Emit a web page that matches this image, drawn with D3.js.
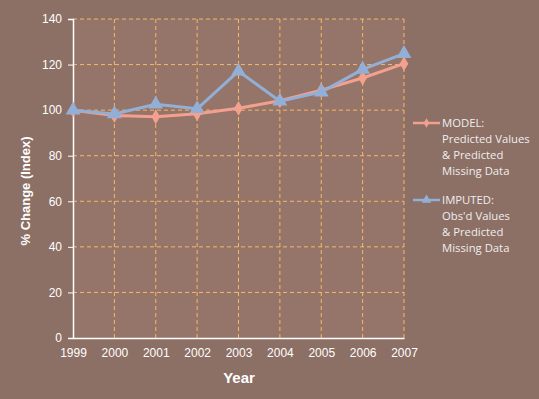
<!DOCTYPE html>
<html><head><meta charset="utf-8">
<script src="https://cdn.jsdelivr.net/npm/d3@7"></script>
<style>html,body{margin:0;padding:0;background:#8c6f65;}svg{display:block;}</style>
</head><body>
<script>
const years = [1999, 2000, 2001, 2002, 2003, 2004, 2005, 2006, 2007];
const modelValues = [100, 97.6, 97.1, 98.4, 100.8, 104.1, 108.8, 114.1, 120.4];
const imputedValues = [100, 98.3, 102.6, 100.6, 117.1, 103.9, 107.9, 117.9, 124.8];
const yTicks = [0, 20, 40, 60, 80, 100, 120, 140];
const legendModel = ["MODEL:", "Predicted Values", "& Predicted", "Missing Data"];
const legendImputed = ["IMPUTED:", "Obs'd Values", "& Predicted", "Missing Data"];

const W = 539, H = 399;
const svg = d3.select("body").append("svg").attr("width", W).attr("height", H);
svg.append("rect").attr("width", W).attr("height", H).attr("fill", "#8c6f65");

const x = d3.scaleLinear().domain([1999, 2007]).range([73, 404]);
const y = d3.scaleLinear().domain([0, 140]).range([338, 19]);

svg.append("rect").attr("x", 73).attr("y", 19).attr("width", 331).attr("height", 319).attr("fill", "#957469");

const grid = "#f5b866";
svg.append("g").selectAll("line").data(yTicks.filter(d => d > 0)).join("line")
  .attr("x1", 73).attr("x2", 404).attr("y1", d => y(d)).attr("y2", d => y(d))
  .attr("stroke", grid).attr("stroke-width", 1).attr("stroke-dasharray", "4,3");
svg.append("g").selectAll("line").data(years.slice(1)).join("line")
  .attr("x1", d => x(d)).attr("x2", d => x(d)).attr("y1", 19).attr("y2", 338)
  .attr("stroke", grid).attr("stroke-width", 1).attr("stroke-dasharray", "4,3");

const yAxis = svg.append("g").attr("transform", "translate(73,0)")
  .call(d3.axisLeft(y).tickValues(yTicks).tickSize(5).tickPadding(6));
yAxis.select(".domain").attr("stroke", "#ffffff").attr("stroke-width", 1.5);
yAxis.selectAll(".tick line").attr("stroke", "#ffffff");
yAxis.selectAll("text").attr("fill", "#ffffff").attr("font-family", "Liberation Sans, Arial, sans-serif").attr("font-size", 12);

const xAxis = svg.append("g").attr("transform", "translate(0,338)")
  .call(d3.axisBottom(x).tickValues(years).tickFormat(d3.format("d")).tickSize(0).tickPadding(10));
xAxis.select(".domain").attr("stroke", "#ffffff").attr("stroke-width", 1.5);
xAxis.selectAll("text").attr("fill", "#ffffff").attr("font-family", "Liberation Sans, Arial, sans-serif").attr("font-size", 12);

svg.append("text").attr("x", 239).attr("y", 383).attr("text-anchor", "middle")
  .attr("fill", "#ffffff").attr("font-family", "Liberation Sans, Arial, sans-serif")
  .attr("font-weight", "bold").attr("font-size", 15).text("Year");
svg.append("text").attr("transform", "translate(30,191) rotate(-90)").attr("text-anchor", "middle")
  .attr("fill", "#ffffff").attr("font-family", "Liberation Sans, Arial, sans-serif")
  .attr("font-weight", "bold").attr("font-size", 13).text("% Change (Index)");

const modelColor = "#f4a08f", impColor = "#93afd6";
const line = d3.line().x((d, i) => x(years[i])).y(d => y(d));

svg.append("path").datum(modelValues).attr("d", line).attr("fill", "none")
  .attr("stroke", modelColor).attr("stroke-width", 3).attr("stroke-linejoin", "round");
const diamond = d3.symbol().type(d3.symbolDiamond).size(64);
svg.append("g").selectAll("path").data(modelValues).join("path")
  .attr("d", diamond).attr("transform", (d, i) => `translate(${x(years[i])},${y(d)})`).attr("fill", modelColor);

svg.append("path").datum(imputedValues).attr("d", line).attr("fill", "none")
  .attr("stroke", impColor).attr("stroke-width", 3).attr("stroke-linejoin", "round");
const tri = d3.symbol().type(d3.symbolTriangle).size(95);
svg.append("g").selectAll("path").data(imputedValues).join("path")
  .attr("d", tri).attr("transform", (d, i) => `translate(${x(years[i])},${y(d)})`).attr("fill", impColor);

function legend(y0, color, sym, lines) {
  svg.append("line").attr("x1", 413).attr("x2", 440).attr("y1", y0).attr("y2", y0)
    .attr("stroke", color).attr("stroke-width", 2.5);
  svg.append("path").attr("d", sym).attr("fill", color)
    .attr("transform", `translate(426.5,${y0}) scale(0.65)`);
  const t = svg.append("text").attr("x", 442).attr("y", y0 + 4).attr("fill", "#eeeeee")
    .attr("font-family", "Open Sans, sans-serif").attr("font-size", 11.3);
  lines.forEach((s, i) => t.append("tspan").attr("x", 442).attr("dy", i === 0 ? 0 : 16).text(s));
}
legend(123, modelColor, diamond(), legendModel);
legend(200, impColor, tri(), legendImputed);
</script>
</body></html>
